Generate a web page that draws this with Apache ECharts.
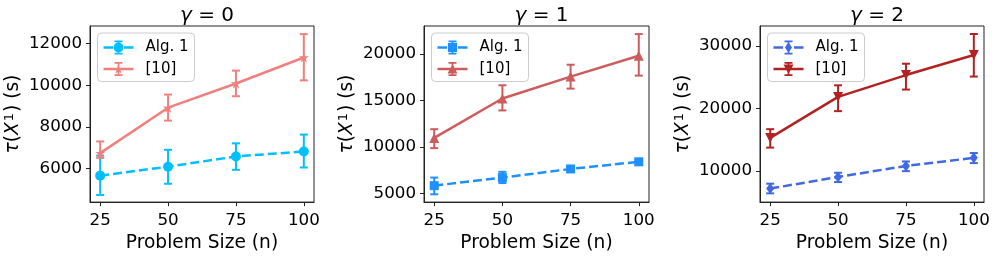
<!DOCTYPE html>
<html>
<head>
<meta charset="utf-8">
<script src="https://cdn.jsdelivr.net/npm/echarts@6/dist/echarts.min.js"></script>
<style>
html,body{margin:0;padding:0;background:#fff;}
#chart{width:996px;height:258px;}
</style>
</head>
<body>
<div id="chart"></div>
<script>
// ---- data ----
var problemSizes = [25, 50, 75, 100];
var xTicks = [25, 50, 75, 100];
var panelTitles = ['0', '1', '2'];
var seriesNames = ['Alg. 1', '[10]'];

// gamma = 0
var alg1_g0    = [5660, 6090, 6580, 6820];
var alg1_g0_lo = [4730, 5270, 5940, 6050];
var alg1_g0_hi = [6620, 6900, 7210, 7630];
var ref_g0     = [6740, 8920, 10080, 11330];
var ref_g0_lo  = [6510, 8300, 9470, 10230];
var ref_g0_hi  = [7300, 9550, 10700, 12450];

// gamma = 1
var alg1_g1    = [5830, 6700, 7630, 8400];
var alg1_g1_lo = [4900, 6110, 7470, 8240];
var alg1_g1_hi = [6700, 7320, 7790, 8560];
var ref_g1     = [10970, 15210, 17570, 19820];
var ref_g1_lo  = [9870, 13930, 16280, 17680];
var ref_g1_hi  = [11910, 16640, 18850, 22150];

// gamma = 2
var alg1_g2    = [7160, 9020, 10780, 12080];
var alg1_g2_lo = [6390, 8200, 9950, 11240];
var alg1_g2_hi = [7940, 9690, 11500, 12850];
var ref_g2     = [15270, 21840, 25340, 28550];
var ref_g2_lo  = [13720, 19560, 23020, 25100];
var ref_g2_hi  = [16670, 23700, 27160, 31920];

var yTicks_g0 = [6000, 8000, 10000, 12000];
var yTicks_g1 = [5000, 10000, 15000, 20000];
var yTicks_g2 = [10000, 20000, 30000];

// ---- layout / style ----
var FONT = 'DejaVu Sans';
var TICK_FS = 16.7, LABEL_FS = 18.6, LEGEND_FS = 15, TITLE_FS = 20;
var grids = [
  {left: 90, top: 26, width: 224, height: 182},
  {left: 424, top: 26, width: 225, height: 182},
  {left: 760, top: 26, width: 224, height: 182}
];
var yRanges = [[4390, 12840], [4060, 23020], [4990, 33200]];
var xRange = [21.25, 103.75];

function starPath(cx, cy, R, r) {
  var s = '';
  for (var k = 0; k < 10; k++) {
    var a = (-90 + 36 * k) * Math.PI / 180;
    var rad = k % 2 === 0 ? R : r;
    var x = (cx + rad * Math.cos(a)).toFixed(3), y = (cy + rad * Math.sin(a)).toFixed(3);
    s += (k === 0 ? 'M' : 'L') + x + ' ' + y;
  }
  return s + 'Z';
}
var markerPaths = {
  circle: 'M10 7A5 5 0 1 1 20 7A5 5 0 1 1 10 7Z',
  star: starPath(15, 7.4, 5.2, 2.0),
  square: 'M10.5 2.5H19.5V11.5H10.5Z',
  triUp: 'M15 2L20 11.5L10 11.5Z',
  triDown: 'M10 2.5L20 2.5L15 12Z',
  diamond: 'M15 1.5L18.5 7L15 12.5L11.5 7Z'
};
var errPath = 'M14.1 0H15.9V14H14.1Z M11 0H19V1.8H11Z M11 12.2H19V14H11Z';
var dashedPath = 'M0 5.8H9.5V8.2H0Z M20.5 5.8H30V8.2H20.5Z';
var solidPath = 'M0 5.8H30V8.2H0Z';

var panels = [
  {
    alg: alg1_g0, algLo: alg1_g0_lo, algHi: alg1_g0_hi,
    ref: ref_g0, refLo: ref_g0_lo, refHi: ref_g0_hi, yTicks: yTicks_g0,
    algColor: '#00BFFF', refColor: '#F08080',
    algSymbol: 'circle', algSize: 10, algRotate: 0, algMarker: 'circle',
    refSymbol: 'path://' + starPath(0, 0, 10, 3.9), refSize: 10, refRotate: 0, refMarker: 'star'
  },
  {
    alg: alg1_g1, algLo: alg1_g1_lo, algHi: alg1_g1_hi,
    ref: ref_g1, refLo: ref_g1_lo, refHi: ref_g1_hi, yTicks: yTicks_g1,
    algColor: '#1E90FF', refColor: '#CD5C5C',
    algSymbol: 'rect', algSize: 9, algRotate: 0, algMarker: 'square',
    refSymbol: 'triangle', refSize: 10, refRotate: 0, refMarker: 'triUp'
  },
  {
    alg: alg1_g2, algLo: alg1_g2_lo, algHi: alg1_g2_hi,
    ref: ref_g2, refLo: ref_g2_lo, refHi: ref_g2_hi, yTicks: yTicks_g2,
    algColor: '#4169E1', refColor: '#B22222',
    algSymbol: 'diamond', algSize: [8, 11], algRotate: 0, algMarker: 'diamond',
    refSymbol: 'triangle', refSize: 10, refRotate: 180, refMarker: 'triDown'
  }
];

function pairs(xs, ys) { return xs.map(function (x, i) { return [x, ys[i]]; }); }
function triples(xs, lo, hi) { return xs.map(function (x, i) { return [x, lo[i], hi[i]]; }); }

function errRender(color) {
  return function (params, api) {
    var x = api.value(0), lo = api.value(1), hi = api.value(2);
    var pH = api.coord([x, hi]), pL = api.coord([x, lo]);
    var cap = 4;
    var st = {stroke: color, lineWidth: 2, fill: null};
    return {
      type: 'group',
      children: [
        {type: 'line', shape: {x1: pH[0], y1: pH[1], x2: pL[0], y2: pL[1]}, style: st},
        {type: 'line', shape: {x1: pH[0] - cap, y1: pH[1], x2: pH[0] + cap, y2: pH[1]}, style: st},
        {type: 'line', shape: {x1: pL[0] - cap, y1: pL[1], x2: pL[0] + cap, y2: pL[1]}, style: st}
      ]
    };
  };
}

var option = {
  animation: false,
  backgroundColor: '#fff',
  title: [], grid: [], xAxis: [], yAxis: [], legend: [], series: []
};

panels.forEach(function (p, i) {
  var g = grids[i];
  option.grid.push({left: g.left, top: g.top, width: g.width, height: g.height,
    show: true, borderColor: '#222', borderWidth: 1, backgroundColor: 'transparent'});
  option.title.push({
    text: '{g|γ} = ' + panelTitles[i],
    left: g.left + g.width / 2, textAlign: 'center', top: 1,
    textStyle: {fontFamily: FONT, fontSize: TITLE_FS, fontWeight: 'normal', color: '#000',
      rich: {g: {fontFamily: FONT, fontSize: TITLE_FS, fontStyle: 'italic', color: '#000'}}}
  });
  option.xAxis.push({
    type: 'value', gridIndex: i, min: xRange[0], max: xRange[1],
    name: 'Problem Size (n)', nameLocation: 'middle', nameGap: 30,
    nameTextStyle: {fontFamily: FONT, fontSize: LABEL_FS, color: '#000'},
    axisLine: {show: true, onZero: false, lineStyle: {color: '#222', width: 1}},
    axisTick: {show: true, customValues: xTicks, length: 4, lineStyle: {color: '#222', width: 1}},
    axisLabel: {customValues: xTicks, fontFamily: FONT, fontSize: TICK_FS, color: '#000', margin: 10,
      formatter: function (v) { return String(v); }},
    splitLine: {show: false}
  });
  option.yAxis.push({
    type: 'value', gridIndex: i, min: yRanges[i][0], max: yRanges[i][1],
    name: '{i|τ}({i|X}{s|1}) (s)', nameLocation: 'middle', nameGap: 66,
    nameTextStyle: {fontFamily: FONT, fontSize: LABEL_FS, color: '#000',
      rich: {i: {fontFamily: FONT, fontSize: LABEL_FS, fontStyle: 'italic', color: '#000'},
             s: {fontFamily: FONT, fontSize: 13, color: '#000', verticalAlign: 'top', padding: [0, 1, 8, 1]}}},
    axisLine: {show: true, onZero: false, lineStyle: {color: '#222', width: 1}},
    axisTick: {show: true, customValues: p.yTicks, length: 4, lineStyle: {color: '#222', width: 1}},
    axisLabel: {customValues: p.yTicks, fontFamily: FONT, fontSize: TICK_FS, color: '#000', margin: 8,
      formatter: function (v) { return String(v); }},
    splitLine: {show: false}
  });
  var algName = seriesNames[0] + '#' + i, refName = seriesNames[1] + '#' + i;
  option.series.push({
    type: 'custom', name: 'errA' + i, xAxisIndex: i, yAxisIndex: i, z: 2,
    renderItem: errRender(p.algColor), encode: {x: 0, y: [1, 2]},
    data: triples(problemSizes, p.algLo, p.algHi), silent: true
  });
  option.series.push({
    type: 'line', name: algName, xAxisIndex: i, yAxisIndex: i, z: 3,
    data: pairs(problemSizes, p.alg),
    symbol: p.algSymbol, symbolSize: p.algSize, symbolRotate: p.algRotate, showSymbol: true,
    itemStyle: {color: p.algColor, borderWidth: 0},
    lineStyle: {color: p.algColor, width: 2.5, type: [9, 4]}
  });
  option.series.push({
    type: 'custom', name: 'errR' + i, xAxisIndex: i, yAxisIndex: i, z: 4,
    renderItem: errRender(p.refColor), encode: {x: 0, y: [1, 2]},
    data: triples(problemSizes, p.refLo, p.refHi), silent: true
  });
  option.series.push({
    type: 'line', name: refName, xAxisIndex: i, yAxisIndex: i, z: 5,
    data: pairs(problemSizes, p.ref),
    symbol: p.refSymbol, symbolSize: p.refSize, symbolRotate: p.refRotate, showSymbol: true,
    itemStyle: {color: p.refColor, borderWidth: 0},
    lineStyle: {color: p.refColor, width: 2.5, type: 'solid'}
  });
  option.legend.push({
    left: g.left + 7.5, top: 33, orient: 'vertical',
    padding: [7, 6, 5, 6], itemGap: 6.5, itemWidth: 30, itemHeight: 14,
    backgroundColor: 'rgba(255,255,255,0.8)', borderColor: '#cccccc', borderWidth: 1, borderRadius: 4,
    selectedMode: false,
    formatter: function (n) { return n.split('#')[0]; },
    textStyle: {fontFamily: FONT, fontSize: LEGEND_FS, color: '#000', padding: [0, 0, 0, 7]},
    data: [
      {name: algName, icon: 'path://' + dashedPath + ' ' + errPath + ' ' + markerPaths[p.algMarker],
       itemStyle: {color: p.algColor, borderWidth: 0}},
      {name: refName, icon: 'path://' + solidPath + ' ' + errPath + ' ' + markerPaths[p.refMarker],
       itemStyle: {color: p.refColor, borderWidth: 0}}
    ]
  });
});

var chart = echarts.init(document.getElementById('chart'), null, {renderer: 'canvas'});
chart.setOption(option);
</script>
</body>
</html>
